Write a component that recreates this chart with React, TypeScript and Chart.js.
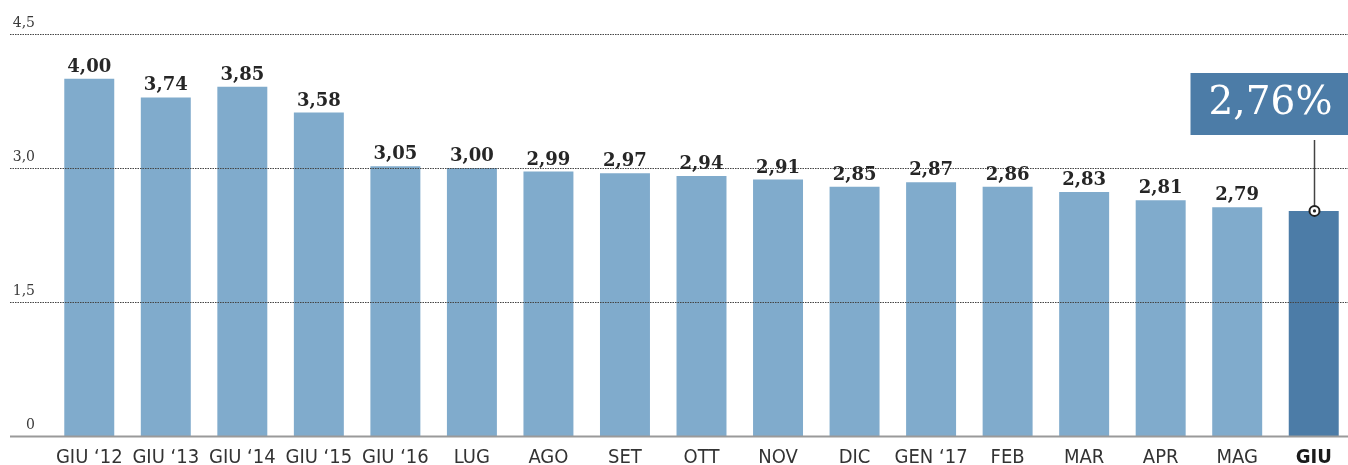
import React, { useEffect, useRef } from "react";
import { Chart, registerables } from "chart.js";

Chart.register(...registerables);

const categories = [
  "GIU ‘12", "GIU ‘13", "GIU ‘14", "GIU ‘15", "GIU ‘16", "LUG", "AGO", "SET", "OTT",
  "NOV", "DIC", "GEN ‘17", "FEB", "MAR", "APR", "MAG", "GIU",
];
// bar heights as drawn in the picture
const barValues = [
  4.0, 3.79, 3.91, 3.62, 3.02, 3.0, 2.96, 2.94, 2.91, 2.87, 2.79, 2.84, 2.79, 2.73, 2.64, 2.56, 2.52,
];
// printed value labels
const valueLabels = [
  "4,00", "3,74", "3,85", "3,58", "3,05", "3,00", "2,99", "2,97", "2,94", "2,91", "2,85",
  "2,87", "2,86", "2,83", "2,81", "2,79", "",
];
const highlightLabel = "2,76%";
const yTicks = [0, 1.5, 3.0, 4.5];
const yTickLabels = ["0", "1,5", "3,0", "4,5"];

const LIGHT = "rgb(128,171,204)";
const DARK = "rgb(76,124,167)";
const SERIF = '"DejaVu Serif", "Liberation Serif", serif';
const SANS = '"Liberation Sans Narrow", "DejaVu Sans Condensed", Roboto, sans-serif';

const overlay = {
  id: "overlay",
  afterDatasetsDraw(chart: any) {
    const ctx = chart.ctx as CanvasRenderingContext2D;
    const x = chart.scales.x;
    const y = chart.scales.y;
    const W = chart.width;
    ctx.save();
    yTicks.forEach((t, i) => {
      const py = Math.round(y.getPixelForValue(t)) + 0.5;
      if (t > 0) {
        ctx.strokeStyle = "#444";
        ctx.lineWidth = 1.2;
        ctx.setLineDash([1.5, 1]);
        ctx.beginPath();
        ctx.moveTo(10, py);
        ctx.lineTo(W, py);
        ctx.stroke();
        ctx.setLineDash([]);
      } else {
        ctx.strokeStyle = "#9a9a9a";
        ctx.lineWidth = 2;
        ctx.beginPath();
        ctx.moveTo(10, py);
        ctx.lineTo(W, py);
        ctx.stroke();
      }
      ctx.fillStyle = "#3a3a3a";
      ctx.font = `14px ${SERIF}`;
      ctx.textAlign = "right";
      ctx.textBaseline = "alphabetic";
      ctx.fillText(yTickLabels[i], 35, py - 7.5);
    });
    categories.forEach((c, i) => {
      const cx = x.getPixelForValue(i);
      const top = y.getPixelForValue(barValues[i]);
      if (valueLabels[i]) {
        ctx.fillStyle = "#262626";
        ctx.font = `bold 18px ${SERIF}`;
        ctx.textAlign = "center";
        ctx.textBaseline = "alphabetic";
        ctx.fillText(valueLabels[i], cx, top - 7);
      }
      const last = i === categories.length - 1;
      ctx.fillStyle = last ? "#1a1a1a" : "#333";
      ctx.font = `${last ? "bold " : ""}20px ${SANS}`;
      ctx.textAlign = "center";
      ctx.textBaseline = "alphabetic";
      ctx.fillText(c, cx, 463);
    });
    const li = categories.length - 1;
    const lx = Math.round(x.getPixelForValue(li)) + 0.5;
    const ly = y.getPixelForValue(barValues[li]);
    const bx = lx - 124;
    const by = 73;
    ctx.fillStyle = DARK;
    ctx.fillRect(bx, by, W - bx, 62);
    ctx.fillStyle = "#fff";
    ctx.font = `39px ${SERIF}`;
    ctx.textAlign = "center";
    ctx.textBaseline = "middle";
    ctx.fillText(highlightLabel, bx + 80, by + 31);
    ctx.strokeStyle = "#444";
    ctx.lineWidth = 1.5;
    ctx.beginPath();
    ctx.moveTo(lx, 140);
    ctx.lineTo(lx, ly - 5);
    ctx.stroke();
    ctx.beginPath();
    ctx.arc(lx, ly, 5, 0, Math.PI * 2);
    ctx.fillStyle = "#fff";
    ctx.fill();
    ctx.lineWidth = 2;
    ctx.strokeStyle = "#222";
    ctx.stroke();
    ctx.beginPath();
    ctx.arc(lx, ly, 1.6, 0, Math.PI * 2);
    ctx.fillStyle = "#222";
    ctx.fill();
    ctx.restore();
  },
};

export default function App() {
  const ref = useRef<HTMLCanvasElement>(null);
  useEffect(() => {
    if (!ref.current) return;
    const chart = new Chart(ref.current, {
      type: "bar",
      data: {
        labels: categories,
        datasets: [
          {
            data: barValues,
            backgroundColor: barValues.map((_, i) => (i === barValues.length - 1 ? DARK : LIGHT)),
            borderWidth: 0,
            barPercentage: 0.653,
            categoryPercentage: 1,
          },
        ],
      },
      options: {
        responsive: false,
        animation: false,
        layout: { padding: { left: 51, right: 0, top: 34, bottom: 29 } },
        scales: {
          x: { display: false, offset: true },
          y: { display: false, min: 0, max: 4.5 },
        },
        plugins: { legend: { display: false }, tooltip: { enabled: false } },
      },
      plugins: [overlay],
    });
    return () => chart.destroy();
  }, []);
  return (
    <div
      style={{
        position: "fixed",
        left: 0,
        top: 0,
        width: 1348,
        height: 465,
        overflow: "hidden",
        background: "#fff",
      }}
    >
      <canvas ref={ref} width={1352} height={465} style={{ display: "block", width: 1352, height: 465 }} />
    </div>
  );
}
